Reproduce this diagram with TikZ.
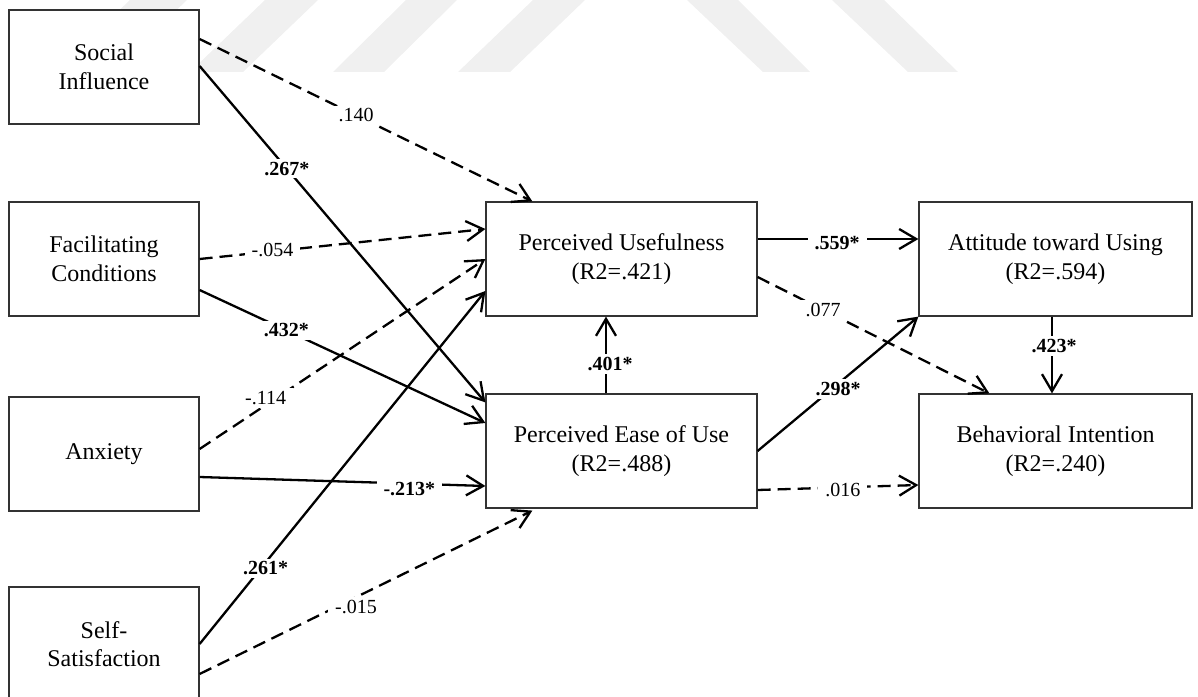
\documentclass[tikz,border=0pt]{standalone}
\usepackage{fontspec}
\setmainfont{Liberation Serif}
\usetikzlibrary{arrows.meta}

\definecolor{bandgray}{HTML}{F0F0F0}
\definecolor{boxline}{HTML}{333333}

\begin{document}
\begin{tikzpicture}[x=1bp, y=-1bp,
  box/.style={draw=boxline, line width=1.2bp, fill=white, inner sep=0pt,
    align=center, font=\fontsize{24bp}{28.5bp}\selectfont},
  smallbox/.style={box, minimum width=190bp, minimum height=114bp},
  bigbox/.style={box, minimum width=271bp, minimum height=114bp},
  widebox/.style={box, minimum width=273bp, minimum height=114bp},
  link/.style={line width=2.3bp, -{Straight Barb[length=17bp, width=20bp]}},
  solidlink/.style={link},
  dashlink/.style={link, dash pattern=on 13bp off 7bp},
  coef/.style={fill=white, inner xsep=7bp, inner ysep=3bp,
    font=\fontsize{20bp}{24bp}\selectfont},
  sigcoef/.style={coef, font=\fontsize{20bp}{24bp}\selectfont\bfseries}
]
\useasboundingbox (0,0) rectangle (1198,697);

% faint background bands
\begin{scope}[fill=bandgray]
  \fill (55,72) -- (112,72) -- (187,0) -- (130,0) -- cycle;
  \fill (190,72) -- (243,72) -- (318,0) -- (265,0) -- cycle;
  \fill (333,72) -- (384,72) -- (457,0) -- (406,0) -- cycle;
  \fill (458,72) -- (510,72) -- (585,0) -- (533,0) -- cycle;
  \fill (763,72) -- (810,72) -- (738,0) -- (687,0) -- cycle;
  \fill (908,72) -- (958,72) -- (884,0) -- (832,0) -- cycle;
\end{scope}

% exogenous constructs
\node[smallbox] (si)  at (104,67)  {Social\\Influence};
\node[smallbox] (fc)  at (104,259) {Facilitating\\Conditions};
\node[smallbox] (anx) at (104,454) {Anxiety};
\node[smallbox] (ss)  at (104,644) {Self-\\Satisfaction};

% endogenous constructs
\node[bigbox]  (pu)   at (621.5,259)  {Perceived Usefulness\\(R2=.421)};
\node[bigbox]  (peou) at (621.5,451)  {Perceived Ease of Use\\(R2=.488)};
\node[widebox] (atu)  at (1055.5,259) {Attitude toward Using\\(R2=.594)};
\node[widebox] (bi)   at (1055.5,451) {Behavioral Intention\\(R2=.240)};

% paths from the exogenous constructs
\draw[dashlink] ([yshift=28bp]si.east) --
  node[coef, pos=.47] (c140) {.140} ([xshift=47bp]pu.north west);
\draw[solidlink] ([yshift=1bp]si.east) --
  node[sigcoef, pos=.305] (c267) {.267*} ([yshift=-9bp]peou.north west);
\draw[dashlink] (fc.east) --
  node[coef, pos=.255, yshift=1bp] (c054) {-.054} ([yshift=30bp]pu.west);
\draw[solidlink] ([yshift=-31bp]fc.east) --
  node[sigcoef, pos=.304] (c432) {.432*} ([yshift=28bp]peou.west);
\draw[dashlink] ([yshift=5bp]anx.east) --
  node[coef, pos=.231, yshift=7bp] (c114) {-.114} (pu.west);
\draw[solidlink] ([yshift=-23bp]anx.east) --
  node[sigcoef, pos=.734, yshift=-5bp] (c213) {-.213*} ([yshift=-35bp]peou.west);
\draw[solidlink] (ss.east) --
  node[sigcoef, pos=.231, yshift=-6bp] (c261) {.261*} ([yshift=-32bp]pu.west);
\draw[dashlink] ([yshift=-30bp]ss.east) --
  node[coef, pos=.47, yshift=-10bp] (c015) {-.015} ([xshift=47bp, yshift=-2bp]peou.south west);

% structural paths
\draw[solidlink] ([xshift=-15.5bp]peou.north) --
  node[sigcoef, pos=.385, xshift=4bp] (c401) {.401*} ([xshift=-15.5bp]pu.south);
\draw[solidlink] ([yshift=20bp]pu.east) --
  node[sigcoef, pos=.494, yshift=-4bp] (c559) {.559*} ([yshift=20bp]atu.west);
\draw[dashlink] ([yshift=-18bp]pu.east) --
  node[coef, pos=.283] (c077) {.077} ([xshift=71bp]bi.north west);
\draw[solidlink] (peou.east) --
  node[sigcoef, pos=.5, yshift=-5bp] (c298) {.298*} (atu.south west);
\draw[dashlink] ([yshift=-39bp]peou.east) --
  node[coef, pos=.53, yshift=-3bp] (c016) {.016} ([yshift=-34bp]bi.west);
\draw[solidlink] ([xshift=-3.5bp]atu.south) --
  node[sigcoef, pos=.385, xshift=2bp, inner xsep=2bp] (c423) {.423*} ([xshift=-3.5bp]bi.north);
\end{tikzpicture}
\end{document}
